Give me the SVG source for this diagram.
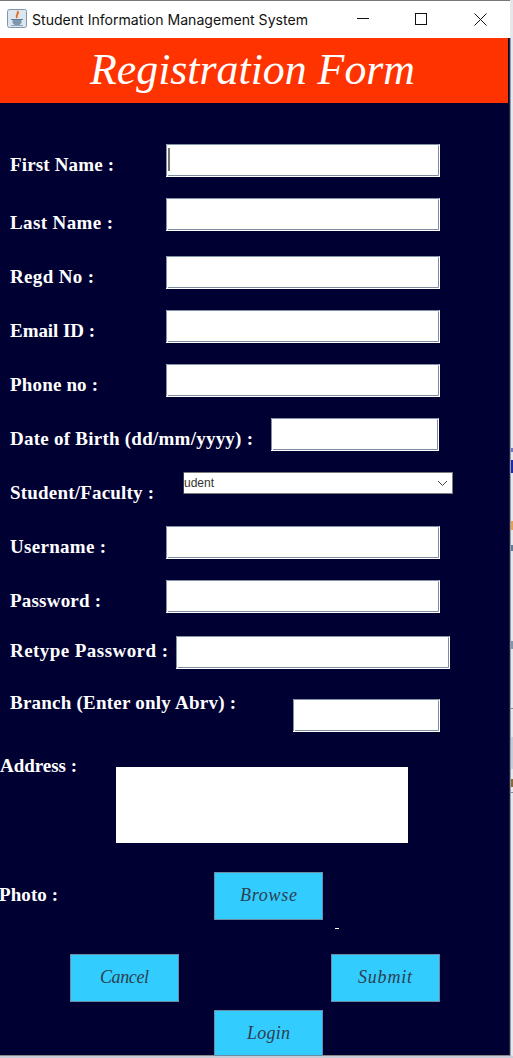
<svg xmlns="http://www.w3.org/2000/svg" width="513" height="1058" viewBox="0 0 513 1058">
<style>
.lbl{font:bold 19px "Liberation Serif",serif;fill:#fff}
.fld{fill:#fff}
.o{fill:none;stroke:#8192a6;stroke-width:1}
.i{fill:none;stroke:#7f8c9c;stroke-width:1}
.btn{fill:#33ccff;stroke:#6d8ca6;stroke-width:1}
.bt{font:italic 18px "Liberation Serif",serif;fill:#2b3f50}
.win{fill:none;stroke:#111;stroke-width:1}
</style>
<rect width="513" height="1058" fill="#e6e7ea"/>
<rect y="1056" width="513" height="2" fill="#c9ccd6"/>
<rect x="0" y="0" width="510" height="1" fill="#777"/>
<rect x="0" y="1" width="510" height="37" fill="#fff"/>
<rect x="0" y="38" width="509" height="1017" fill="#000033"/>
<rect x="509" y="38" width="1" height="1017" fill="#20224a"/>
<rect x="0" y="38" width="508" height="65" fill="#ff3300"/>
<rect x="0" y="1055" width="510" height="1" fill="#888"/>
<rect x="510" y="38" width="1" height="1018" fill="#9a9da6"/>
<rect x="511" y="448" width="2" height="4" fill="#6c78c8"/>
<rect x="511" y="460" width="2" height="13" fill="#1a2ab0"/>
<rect x="511" y="521" width="2" height="9" fill="#e8a050"/>
<rect x="511" y="545" width="2" height="6" fill="#5c7d9c"/>
<rect x="511" y="641" width="2" height="8" fill="#7d97ad"/>
<rect x="511" y="708" width="2" height="1" fill="#888"/>
<rect x="511" y="737" width="2" height="32" fill="#c5cdd9"/>
<rect x="511" y="779" width="2" height="8" fill="#8a6a3a"/>
<rect x="511" y="792" width="2" height="1" fill="#888"/>

<g id="titlebar">
<rect x="7.500" y="9.500" width="19" height="18" rx="2" fill="#dde6ee" stroke="#7f97ad"/>
<path d="M11 19.500h12" stroke="#5d7f99" stroke-width="1"/>
<path d="M12.500 20h9v3l-2 2h-5l-2-2z" fill="#7d97ad"/>
<path d="M11 25.500h12" stroke="#8fa5b8" stroke-width="1"/>
<path d="M17.500 11c2 3-2.500 4-.5 7" fill="none" stroke="#e0702a" stroke-width="2"/>
<text x="32" y="25" font-family="Inter,'Noto Sans',sans-serif" font-size="14" fill="#111" textLength="276" lengthAdjust="spacingAndGlyphs">Student Information Management System</text>
<path class="win" d="M357 18.500h12"/>
<rect class="win" x="415.500" y="13.500" width="11" height="11"/>
<path class="win" d="M474.500 13.500l12 12m0-12l-12 12"/>
</g>

<g id="title"><text x="90" y="84" font-family="'Liberation Serif',serif" font-style="italic" font-size="44" fill="#fff" textLength="325" lengthAdjust="spacingAndGlyphs">Registration Form</text></g>

<g id="first-name"><text class="lbl" x="10" y="171" textLength="104">First Name :</text><rect class="fld" x="166" y="144" width="274" height="33"/><path class="o" d="M166.500 176v-31.500h273"/><path class="i" d="M168 175.500h270.500v-30"/><path d="M169 148v23" stroke="#444" stroke-width="1.500"/></g>
<g id="last-name"><text class="lbl" x="10" y="229" textLength="103">Last Name :</text><rect class="fld" x="166" y="198" width="274" height="33"/><path class="o" d="M166.500 230v-31.500h273"/><path class="i" d="M168 229.500h270.500v-30"/></g>
<g id="regd-no"><text class="lbl" x="10" y="283" textLength="84">Regd No :</text><rect class="fld" x="166" y="256" width="274" height="33"/><path class="o" d="M166.500 288v-31.500h273"/><path class="i" d="M168 287.500h270.500v-30"/></g>
<g id="email"><text class="lbl" x="10" y="337" textLength="85">Email ID :</text><rect class="fld" x="166" y="310" width="274" height="33"/><path class="o" d="M166.500 342v-31.500h273"/><path class="i" d="M168 341.500h270.500v-30"/></g>
<g id="phone"><text class="lbl" x="10" y="391" textLength="88">Phone no :</text><rect class="fld" x="166" y="364" width="274" height="33"/><path class="o" d="M166.500 396v-31.500h273"/><path class="i" d="M168 395.500h270.500v-30"/></g>
<g id="dob"><text class="lbl" x="10" y="445" textLength="243">Date of Birth (dd/mm/yyyy) :</text><rect class="fld" x="271" y="418" width="168" height="33"/><path class="o" d="M271.500 450v-31.500h167"/><path class="i" d="M273 449.500h164.500v-30"/></g>
<g id="role"><text class="lbl" x="10" y="499" textLength="144">Student/Faculty :</text>
<rect x="184" y="472.500" width="268.500" height="21" fill="#fff" stroke="#7a7a7a"/><rect x="184" y="473" width="1" height="20" fill="#fff"/>
<text x="184" y="487" font-family="'Liberation Sans',sans-serif" font-size="12" fill="#333">udent</text>
<path d="M438 481l4.500 4.500 4.500-4.500" fill="none" stroke="#444"/></g>
<g id="username"><text class="lbl" x="10" y="553" textLength="96">Username :</text><rect class="fld" x="166" y="526" width="274" height="33"/><path class="o" d="M166.500 558v-31.500h273"/><path class="i" d="M168 557.500h270.500v-30"/></g>
<g id="password"><text class="lbl" x="10" y="607" textLength="91">Password :</text><rect class="fld" x="166" y="580" width="274" height="33"/><path class="o" d="M166.500 612v-31.500h273"/><path class="i" d="M168 611.500h270.500v-30"/></g>
<g id="retype"><text class="lbl" x="10" y="657" textLength="158">Retype Password :</text><rect class="fld" x="176" y="636" width="274" height="33"/><path class="o" d="M176.500 668v-31.500h273"/><path class="i" d="M178 667.500h270.500v-30"/></g>
<g id="branch"><text class="lbl" x="10" y="709" textLength="226">Branch (Enter only Abrv) :</text><rect class="fld" x="293" y="699" width="147" height="33"/><path class="o" d="M293.500 731v-31.500h146"/><path class="i" d="M295 730.500h143.500v-30"/></g>
<g id="address"><text class="lbl" x="0" y="772" textLength="77">Address :</text><rect x="116" y="767" width="292" height="76" fill="#fff"/></g>
<g id="photo"><text class="lbl" x="-1" y="901" textLength="59">Photo :</text><rect x="335" y="928" width="4" height="1" fill="#fff"/></g>
<g id="browse"><rect class="btn" x="214.500" y="872.500" width="108" height="47"/><text class="bt" x="240" y="901" textLength="57">Browse</text></g>
<g id="cancel"><rect class="btn" x="70.500" y="954.500" width="108" height="47"/><text class="bt" x="100" y="983" textLength="49">Cancel</text></g>
<g id="submit"><rect class="btn" x="331.500" y="954.500" width="108" height="47"/><text class="bt" x="358" y="983" textLength="54">Submit</text></g>
<g id="login"><rect class="btn" x="214.500" y="1010.500" width="108" height="45"/><text class="bt" x="247" y="1039" textLength="43">Login</text></g>
</svg>
